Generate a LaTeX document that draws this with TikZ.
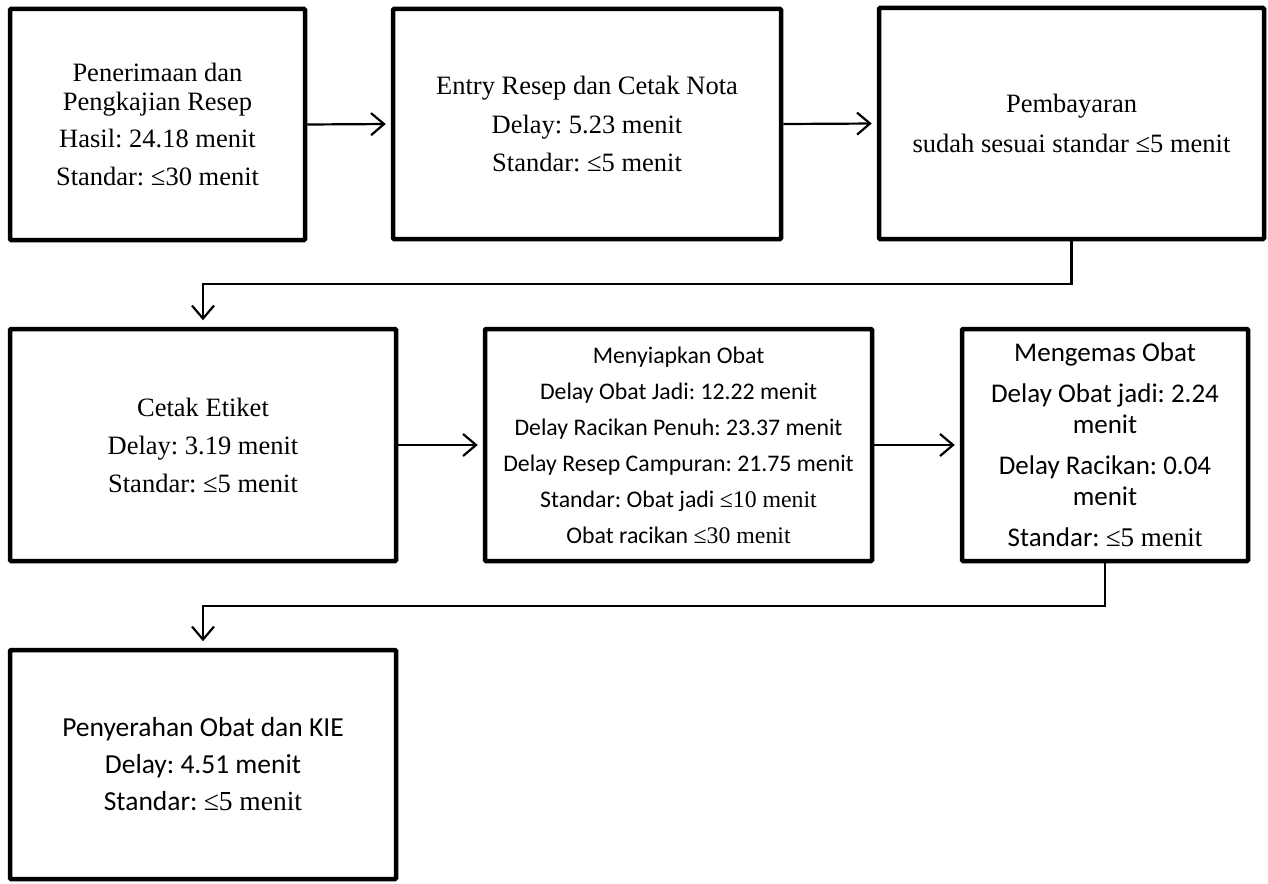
\documentclass[tikz,border=0pt]{standalone}
\usepackage{fontspec}
\setmainfont{Liberation Serif}
\newfontfamily\calibri{Carlito}
\usetikzlibrary{arrows.meta}
\frenchspacing
\begin{document}
\begin{tikzpicture}[x=1pt,y=-1pt,
  box/.style={draw, line width=4.5pt, rectangle, rounded corners=1pt, align=center, inner sep=0pt},
  conn/.style={line width=2.2pt, -{Straight Barb[length=13pt,width=22pt,line width=2.2pt]}, shorten >=5pt}]
\fill[white] (0,0) rectangle (1268,883);
\useasboundingbox (0,0) rectangle (1268,883);

\node[box, minimum width=295pt, minimum height=231pt, font={\fontsize{26.5}{28.5}\selectfont}] (b1) at (157.5,124.5)
  {Penerimaan dan\\Pengkajian Resep\\[9pt]Hasil: 24.18 menit\\[9pt]Standar: ≤30 menit};
\node[box, minimum width=388pt, minimum height=230pt, font={\fontsize{26.5}{38.5}\selectfont}] (b2) at (587,124)
  {Entry Resep dan Cetak Nota\\Delay: 5.23 menit\\Standar: ≤5 menit};
\node[box, minimum width=385pt, minimum height=231pt, font={\fontsize{26.5}{40}\selectfont}] (b3) at (1071.5,123.5)
  {Pembayaran\\sudah sesuai standar ≤5 menit};
\node[box, minimum width=386pt, minimum height=232pt, font={\fontsize{26.5}{38}\selectfont}] (b4) at (203,445)
  {Cetak Etiket\\Delay: 3.19 menit\\Standar: ≤5 menit};
\node[box, minimum width=387pt, minimum height=232pt, font={\calibri\fontsize{23.8}{36}\selectfont}] (b5) at (678.5,445)
  {Menyiapkan Obat\\Delay Obat Jadi: 12.22 menit\\Delay Racikan Penuh: 23.37 menit\\Delay Resep Campuran: 21.75 menit\\Standar: Obat jadi {\rmfamily ≤10 menit}\\Obat racikan {\rmfamily ≤30 menit}};
\node[box, minimum width=286pt, minimum height=232pt, font={\calibri\fontsize{27}{31}\selectfont}] (b6) at (1105,445)
  {Mengemas Obat\\[10pt]Delay Obat jadi: 2.24\\menit\\[10pt]Delay Racikan: 0.04\\menit\\[10pt]Standar: {\rmfamily ≤5 menit}};
\node[box, minimum width=386pt, minimum height=229pt, font={\calibri\fontsize{27.5}{37}\selectfont}] (b7) at (203,764.5)
  {Penyerahan Obat dan KIE\\Delay: 4.51 menit\\Standar: {\rmfamily ≤5 menit}};

\coordinate (h1) at (0,284);
\coordinate (h2) at (0,606);

\draw[conn] (b1.east) -- (b2.west);
\draw[conn] (b2.east) -- (b3.west);
\draw[conn, shorten >=6.5pt] (b3.south) -- (b3.south |- h1) -| (b4.north);
\draw[conn] (b4.east) -- (b5.west);
\draw[conn] (b5.east) -- (b6.west);
\draw[conn, shorten >=6.5pt] (b6.south) -- (b6.south |- h2) -| (b7.north);
\end{tikzpicture}
\end{document}
